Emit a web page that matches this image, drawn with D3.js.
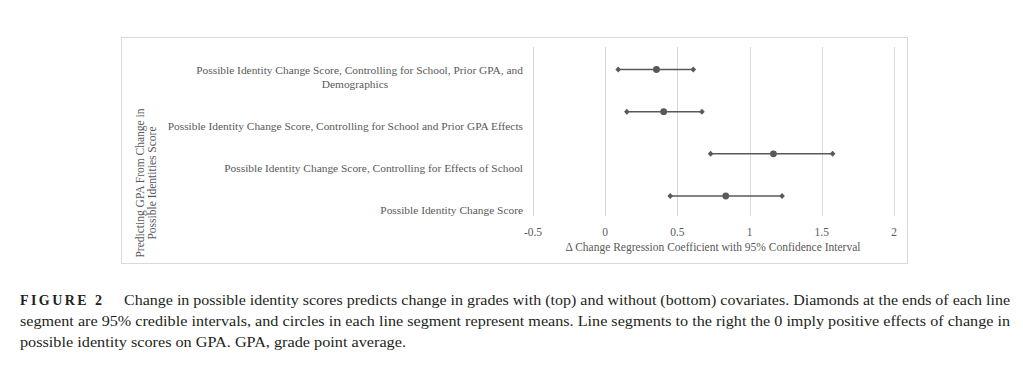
<!DOCTYPE html>
<html>
<head>
<meta charset="utf-8">
<script src="https://cdn.jsdelivr.net/npm/d3@7"></script>
<style>
  body { margin: 0; background: #fff; }
</style>
</head>
<body>
<svg id="chart" width="1023" height="376"></svg>
<script>
// rows, top to bottom
var categories = [
  "Possible Identity Change Score, Controlling for School, Prior GPA, and Demographics",
  "Possible Identity Change Score, Controlling for School and Prior GPA Effects",
  "Possible Identity Change Score, Controlling for Effects of School",
  "Possible Identity Change Score"
];
// label lines as wrapped in the picture
var labelLines = [
  ["Possible Identity Change Score, Controlling for School, Prior GPA, and", "Demographics"],
  ["Possible Identity Change Score, Controlling for School and Prior GPA Effects"],
  ["Possible Identity Change Score, Controlling for Effects of School"],
  ["Possible Identity Change Score"]
];
var lower = [0.09, 0.15, 0.73, 0.45];
var means = [0.355, 0.405, 1.165, 0.835];
var upper = [0.61, 0.67, 1.575, 1.225];
var xTicks = [-0.5, 0, 0.5, 1, 1.5, 2];

var serif = "'Liberation Serif', 'DejaVu Serif', 'Times New Roman', serif";
var svg = d3.select("#chart").attr("font-family", serif);
var grey = "#595959";

// chart frame
svg.append("rect")
  .attr("x", 121.5).attr("y", 37.5)
  .attr("width", 786).attr("height", 226)
  .attr("fill", "none").attr("stroke", "#d9d9d9").attr("stroke-width", 1);

var x = d3.scaleLinear().domain([-0.5, 2]).range([533, 894]);
var y = d3.scalePoint().domain(categories).range([69.5, 196]);
var yLabel = d3.scalePoint().domain(categories).range([83.5, 210]);

// vertical gridlines
svg.append("g").selectAll("line")
  .data(xTicks).enter().append("line")
  .attr("x1", d => Math.round(x(d)) + 0.5).attr("x2", d => Math.round(x(d)) + 0.5)
  .attr("y1", 47).attr("y2", 216)
  .attr("stroke", "#d9d9d9").attr("stroke-width", 1);

// tick labels
svg.append("g").selectAll("text")
  .data(xTicks).enter().append("text")
  .attr("x", d => x(d)).attr("y", 236)
  .attr("text-anchor", "middle")
  .attr("font-family", serif)
  .attr("font-size", 11.5).attr("fill", grey)
  .text(d => d);

// x axis title
svg.append("text")
  .attr("x", 713).attr("y", 251)
  .attr("text-anchor", "middle")
  .attr("font-family", serif)
  .attr("font-size", 11.5).attr("fill", grey)
  .text("\u0394 Change Regression Coefficient with 95% Confidence Interval");

// category labels (last line sits at the band position)
var lab = svg.append("g");
categories.forEach(function (c, i) {
  var lines = labelLines[i];
  lines.forEach(function (ln, j) {
    var last = lines.length > 1 && j == lines.length - 1;
    lab.append("text")
      .attr("x", last ? 355 : 523)
      .attr("y", yLabel(c) + 4 - (lines.length - 1 - j) * 13.5)
      .attr("text-anchor", last ? "middle" : "end")
      .attr("font-family", serif)
      .attr("font-size", 11.4).attr("fill", grey)
      .text(ln);
  });
});

// y axis title, rotated
var yt = svg.append("text")
  .attr("transform", "translate(140,183) rotate(-90)")
  .attr("text-anchor", "middle")
  .attr("font-family", serif)
  .attr("font-size", 11.5).attr("fill", grey);
yt.append("tspan").attr("x", 0).attr("y", 4).text("Predicting GPA From Change in");
yt.append("tspan").attr("x", 0).attr("y", 16).text("Possible Identities Score");

// interval rows
var rows = svg.append("g").selectAll("g")
  .data(categories).enter().append("g");

rows.append("line")
  .attr("x1", (d, i) => x(lower[i])).attr("x2", (d, i) => x(upper[i]))
  .attr("y1", d => y(d)).attr("y2", d => y(d))
  .attr("stroke", grey).attr("stroke-width", 1.5);

// diamond marker, a bit wider than d3's default one
var diamond = "M0,-3L2.8,0L0,3L-2.8,0Z";
rows.append("path")
  .attr("d", diamond)
  .attr("transform", (d, i) => "translate(" + x(lower[i]) + "," + y(d) + ")")
  .attr("fill", grey);
rows.append("path")
  .attr("d", diamond)
  .attr("transform", (d, i) => "translate(" + x(upper[i]) + "," + y(d) + ")")
  .attr("fill", grey);
rows.append("circle")
  .attr("cx", (d, i) => x(means[i])).attr("cy", d => y(d))
  .attr("r", 3.4).attr("fill", grey);

// figure caption
var cap = svg.append("g").attr("fill", "#231f20");
cap.append("text")
  .attr("x", 20).attr("y", 305)
  .attr("font-family", serif)
  .attr("font-size", 14).attr("font-weight", "bold")
  .attr("textLength", 82).attr("lengthAdjust", "spacing")
  .text("FIGURE 2");
cap.append("text")
  .attr("x", 124).attr("y", 305)
  .attr("font-family", serif)
  .attr("font-size", 15)
  .attr("textLength", 886).attr("lengthAdjust", "spacingAndGlyphs")
  .text("Change in possible identity scores predicts change in grades with (top) and without (bottom) covariates. Diamonds at the ends of each line");
cap.append("text")
  .attr("x", 20).attr("y", 326)
  .attr("font-family", serif)
  .attr("font-size", 15)
  .attr("textLength", 990).attr("lengthAdjust", "spacingAndGlyphs")
  .text("segment are 95% credible intervals, and circles in each line segment represent means. Line segments to the right the 0 imply positive effects of change in");
cap.append("text")
  .attr("x", 20).attr("y", 347)
  .attr("font-family", serif)
  .attr("font-size", 15)
  .attr("textLength", 386).attr("lengthAdjust", "spacingAndGlyphs")
  .text("possible identity scores on GPA. GPA, grade point average.");
</script>
</body>
</html>
